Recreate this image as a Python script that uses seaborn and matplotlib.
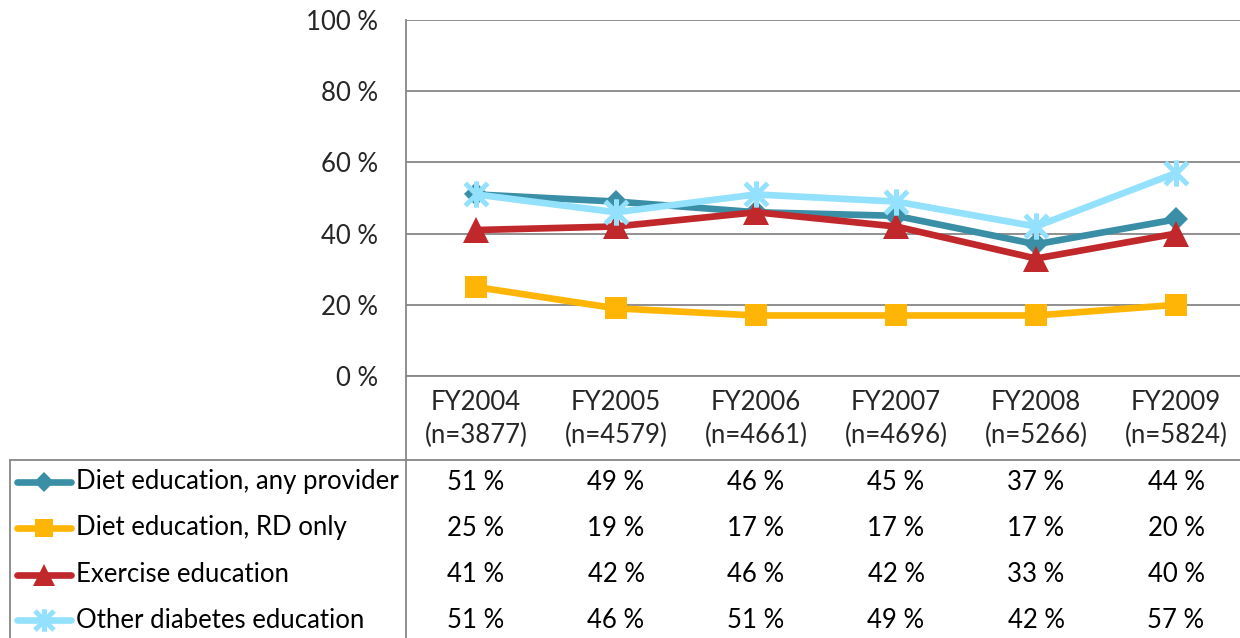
import matplotlib
matplotlib.use('Agg')
import matplotlib.pyplot as plt
import matplotlib.transforms as mtransforms
from matplotlib.lines import Line2D
from matplotlib.path import Path
import seaborn as sns
import pandas as pd

# data
years = ['FY2004', 'FY2005', 'FY2006', 'FY2007', 'FY2008', 'FY2009']
sizes = ['n=3877', 'n=4579', 'n=4661', 'n=4696', 'n=5266', 'n=5824']
diet_any = [51, 49, 46, 45, 37, 44]
diet_rd = [25, 19, 17, 17, 17, 20]
exercise = [41, 42, 46, 42, 33, 40]
other = [51, 46, 51, 49, 42, 57]

series_names = ['Diet education, any provider', 'Diet education, RD only',
                'Exercise education', 'Other diabetes education']
series_vals = [diet_any, diet_rd, exercise, other]

colors = ['#3a8fa7', '#ffb505', '#c0282c', '#93e1fc']

# excel style "star" marker: an x with a vertical bar
star = Path([(-0.85, -0.85), (0.85, 0.85), (-0.85, 0.85), (0.85, -0.85), (0, -1), (0, 1)],
            [Path.MOVETO, Path.LINETO, Path.MOVETO, Path.LINETO, Path.MOVETO, Path.LINETO])
marker_kw = [
    dict(marker='D', markersize=12, markeredgewidth=0),
    dict(marker='s', markersize=16, markeredgewidth=0),
    dict(marker='^', markersize=19, markeredgewidth=0),
    dict(marker=star, markersize=19, markeredgewidth=3.6),
]

sns.set_style('white')
plt.rcParams['font.family'] = ['Lato', 'DejaVu Sans']
FS = 18.5
W, H = 1240, 638
grid_c = '#878787'
LW = 4.8

fig = plt.figure(figsize=(W / 100, H / 100), dpi=100)
ax = fig.add_axes([406 / W, 1 - 376 / H, 840 / W, 356 / H])

x = list(range(len(years)))
for name, vals, c, mk in zip(series_names, series_vals, colors, marker_kw):
    df = pd.DataFrame({'x': x, 'y': vals})
    sns.lineplot(data=df, x='x', y='y', ax=ax, color=c, linewidth=LW,
                 markeredgecolor=c, markerfacecolor=c, **mk)

ax.set_xlim(-0.5, 5.5)
ax.set_ylim(0, 100)
ax.set_yticks([0, 20, 40, 60, 80, 100])
ax.set_yticklabels([f'{v} %' for v in [0, 20, 40, 60, 80, 100]], fontsize=FS)
ax.set_xticks(x)
ax.set_xticklabels([f'{y}\n({n})' for y, n in zip(years, sizes)], fontsize=FS, linespacing=1.38)
ax.tick_params(axis='y', length=0, pad=20)
ax.tick_params(axis='x', length=0, pad=10)
ax.set_xlabel('')
ax.set_ylabel('')
ax.grid(axis='y', color=grid_c, linewidth=1.3)
ax.set_axisbelow(True)
for s in ['top', 'right']:
    ax.spines[s].set_visible(False)
ax.spines['left'].set_color(grid_c)
ax.spines['left'].set_linewidth(1.3)
ax.spines['bottom'].set_color(grid_c)
ax.spines['bottom'].set_linewidth(1.3)

# data table below the plot
ft = fig.transFigure
blend = mtransforms.blended_transform_factory(ax.transData, ft)
row_y = [482, 528, 575, 620]
for name, vals, c, mk, py in zip(series_names, series_vals, colors, marker_kw, row_y):
    yf = 1 - py / H
    for xi, v in zip(x, vals):
        fig.text(xi, yf, f'{v} %', transform=blend, ha='center', va='center', fontsize=FS, color='black')
    mk_leg = dict(mk)
    mk_leg['markersize'] = mk['markersize'] * 0.85
    fig.add_artist(Line2D([17 / W, 44 / W, 71 / W], [yf, yf, yf], transform=ft, color=c,
                          linewidth=LW, markevery=[1], markeredgecolor=c, markerfacecolor=c,
                          solid_capstyle='round', **mk_leg))
    fig.text(76 / W, yf, name, transform=ft, ha='left', va='center', fontsize=FS, color='black')

# table borders
fig.add_artist(Line2D([10 / W, 1], [1 - 460 / H, 1 - 460 / H], transform=ft, color=grid_c, linewidth=1.3))
fig.add_artist(Line2D([10 / W, 10 / W], [1 - 460 / H, 0], transform=ft, color=grid_c, linewidth=1.3))
fig.add_artist(Line2D([406 / W, 406 / W], [1 - 376 / H, 0], transform=ft, color=grid_c, linewidth=1.3))

fig.savefig('out.png', dpi=100)
